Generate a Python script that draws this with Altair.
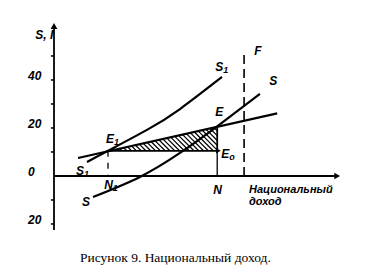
import altair as alt
import pandas as pd
import numpy as np

# --- data (chart units) ---
i_x = [10, 93]
i_y = [7.5, 26.1]
s1_x = [13.75, 22.5, 38.75, 52.5, 70]
s1_y = [5.8, 10.5, 19.2, 27.9, 41.25]
s_x = [16.25, 35.8, 52.5, 68, 85.8]
s_y = [-8.75, -0.4, 9.6, 20.7, 34.2]
E1 = (22.5, 10.5)
E = (68, 20.7)
E0 = (68, 10.5)
F_x = 79.2
F_top = 52.5
y_ticks = [50, 40, 30, 20, 10, -10, -20]
y_tick_labels = ["40", "20", "0", "20"]
y_tick_label_vals = [40, 20, 0, -20]
caption = "Рисунок 9. Национальный доход."

XD = [-22.5, 130]
YD = [-42.92, 73.33]
W, H = 366, 279

xs = alt.Scale(domain=XD, nice=False, zero=False)
ys = alt.Scale(domain=YD, nice=False, zero=False)

def X(f="x"):
    return alt.X(f"{f}:Q", scale=xs, axis=None)

def Y(f="y"):
    return alt.Y(f"{f}:Q", scale=ys, axis=None)

layers = []

# axes
axes = pd.DataFrame({"x": [0, 0], "y": [-22.5, 0], "x2": [0, 117], "y2": [62, 0]})
layers.append(alt.Chart(axes).mark_rule(color="black", strokeWidth=1.8).encode(
    x=X(), y=Y(), x2="x2:Q", y2="y2:Q"))
arrows = pd.DataFrame({"x": [0, 118], "y": [62.5, 0], "shape": ["triangle-up", "triangle-right"]})
layers.append(alt.Chart(arrows).mark_point(filled=True, color="black", size=45, opacity=1).encode(
    x=X(), y=Y(), shape=alt.Shape("shape:N", scale=None)))

# y ticks
yt = pd.DataFrame({"x": [-1.3] * len(y_ticks), "x2": [0] * len(y_ticks), "y": y_ticks})
layers.append(alt.Chart(yt).mark_rule(color="black", strokeWidth=1.5).encode(
    x=X(), x2="x2:Q", y=Y()))
ytl = pd.DataFrame({"x": [-10.8] * 4, "y": y_tick_label_vals, "t": y_tick_labels})
layers.append(alt.Chart(ytl).mark_text(align="left", baseline="middle", dy=-4, font="Liberation Sans",
                                       fontSize=12, fontStyle="italic", fontWeight="bold").encode(
    x=X(), y=Y(), text="t:N"))

# F dashed line
fd = pd.DataFrame({"x": [F_x], "y": [0], "y2": [F_top]})
layers.append(alt.Chart(fd).mark_rule(color="black", strokeWidth=1.6, strokeDash=[9, 5]).encode(
    x=X(), y=Y(), y2="y2:Q"))

# hatching of triangle E1-E-E0
s = (E[1] - E1[1]) / (E[0] - E1[0])
rows = []
k0 = E1[0] + E1[1]
k1 = E[0] + E[1]
for k in np.arange(k0 + 1.8, k1, 2.0):
    xb = k - E1[1]
    if xb <= E0[0]:
        bx, by = xb, E1[1]
    else:
        bx, by = E0[0], k - E0[0]
    tx = (k - E1[1] + s * E1[0]) / (1 + s)
    ty = k - tx
    rows.append({"x": tx, "y": ty, "x2": bx, "y2": by})
hatch = pd.DataFrame(rows)
layers.append(alt.Chart(hatch).mark_rule(color="black", strokeWidth=1.2).encode(
    x=X(), y=Y(), x2="x2:Q", y2="y2:Q"))

# triangle edges
edges = pd.DataFrame({"x": [E1[0], E[0]], "y": [E1[1], E[1]], "x2": [E0[0], E0[0]], "y2": [E0[1], E0[1]]})
layers.append(alt.Chart(edges).mark_rule(color="black", strokeWidth=1.8).encode(
    x=X(), y=Y(), x2="x2:Q", y2="y2:Q"))
layers.append(alt.Chart(pd.DataFrame({"x": [E0[0] + 0.5], "y": [E0[1]]})).mark_point(
    shape="triangle-right", filled=True, color="black", size=30, opacity=1).encode(x=X(), y=Y()))

# verticals to N1, N
vn1 = pd.DataFrame({"x": [E1[0]], "y": [E1[1]], "y2": [0]})
layers.append(alt.Chart(vn1).mark_rule(color="black", strokeWidth=1.3, strokeDash=[6, 6]).encode(
    x=X(), y=Y(), y2="y2:Q"))
vn = pd.DataFrame({"x": [E0[0]], "y": [E0[1]], "y2": [0]})
layers.append(alt.Chart(vn).mark_rule(color="black", strokeWidth=1.3).encode(
    x=X(), y=Y(), y2="y2:Q"))

# I line
idf = pd.DataFrame({"x": i_x, "y": i_y})
layers.append(alt.Chart(idf).mark_line(color="black", strokeWidth=2.2).encode(x=X(), y=Y()))
# S1 curve
s1df = pd.DataFrame({"x": s1_x, "y": s1_y})
layers.append(alt.Chart(s1df).mark_line(color="black", strokeWidth=2.2, interpolate="natural").encode(
    x=X(), y=Y(), order="x:Q"))
# S curve
sdf = pd.DataFrame({"x": s_x, "y": s_y})
layers.append(alt.Chart(sdf).mark_line(color="black", strokeWidth=2.2, interpolate="natural").encode(
    x=X(), y=Y(), order="x:Q"))

# labels (main letter + subscript)
lab = pd.DataFrame({
    "t": ["S, I", "E", "E", "E", "S", "S", "F", "S", "S", "N", "N"],
    "sub": ["", "1", "", "o", "1", "", "", "1", "", "1", ""],
    "x": [-0.3, 25.0, 70.5, 73.0, 70.5, 93.0, 86.5, 12.5, 15.0, 24.5, 70.0],
    "y": [58.75, 15.4, 26.7, 9.2, 45.4, 39.6, 52.1, 2.1, -10.8, -3.75, -5.8],
})
layers.append(alt.Chart(lab).mark_text(align="right", baseline="middle", font="Liberation Sans",
                                       fontSize=12, fontStyle="italic", fontWeight="bold").encode(
    x=X(), y=Y(), text="t:N"))
layers.append(alt.Chart(lab).mark_text(align="left", baseline="middle", dx=0, dy=3, font="Liberation Sans",
                                       fontSize=9, fontStyle="italic", fontWeight="bold").encode(
    x=X(), y=Y(), text="sub:N"))

axl = pd.DataFrame({"t": ["Национальный", "доход"], "x": [81.25, 81.25], "y": [-6.0, -10.9]})
layers.append(alt.Chart(axl).mark_text(align="left", baseline="middle", font="Liberation Sans",
                                       fontSize=11, fontStyle="italic", fontWeight="bold").encode(
    x=X(), y=Y(), text="t:N"))

cap = pd.DataFrame({"t": [caption], "x": [10.8], "y": [-34.2]})
layers.append(alt.Chart(cap).mark_text(align="left", baseline="middle", font="Liberation Serif",
                                       fontSize=13.5).encode(x=X(), y=Y(), text="t:N"))

chart = alt.layer(*layers).properties(
    width=W, height=H, autosize=alt.AutoSizeParams(type="none"), padding=0,
    background="white"
).configure_view(stroke=None)

chart.save("out.html", embed_options={"renderer": "svg", "actions": False})
